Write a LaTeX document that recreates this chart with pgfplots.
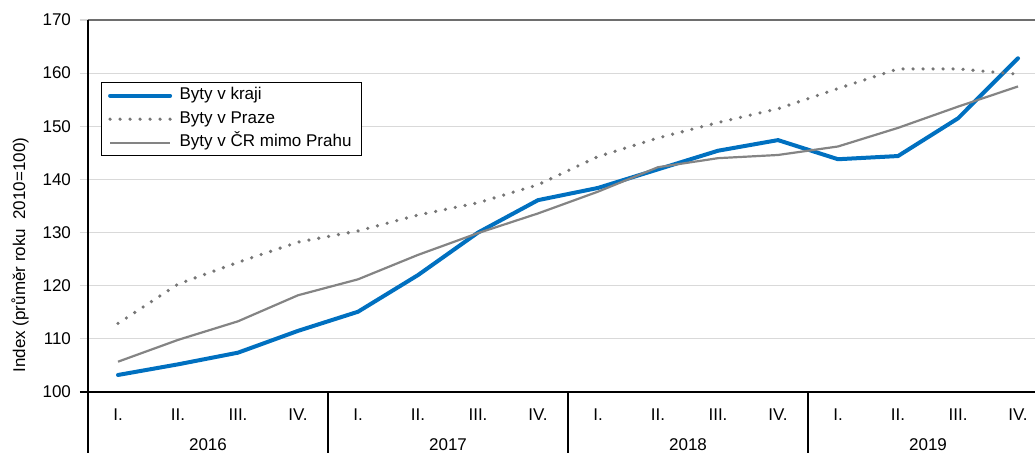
\documentclass[border=0pt]{standalone}
\usepackage{fontspec}
\setmainfont{Liberation Sans}
\usepackage{pgfplots}
\pgfplotsset{compat=1.18}

\definecolor{krajblue}{RGB}{0,112,192}
\definecolor{prahagray}{RGB}{118,118,118}
\definecolor{crgray}{RGB}{132,132,132}
\definecolor{gridgray}{RGB}{217,217,217}
\definecolor{framegray}{RGB}{110,110,110}

\begin{document}
\begin{tikzpicture}[font=\fontsize{8.5pt}{10pt}\selectfont]
\path[use as bounding box] (0,0) rectangle (517.5pt,226.5pt);
\begin{axis}[
  at={(44pt,30.5pt)}, anchor=south west,
  scale only axis, width=473.5pt, height=186pt,
  xmin=-0.5, xmax=15.283, ymin=100, ymax=170,
  clip=false,
  axis line style={draw=none},
  /pgf/number format/assume math mode=true,
  ytick={100,110,...,170}, ytick pos=left,
  tick align=outside, major tick length=4pt,
  y tick style={gridgray, line width=0.6pt},
  yticklabel style={xshift=-1pt},
  ymajorgrids, major grid style={gridgray, line width=0.6pt},
  xtick={0,...,15},
  xticklabels={I.,II.,III.,IV.,I.,II.,III.,IV.,I.,II.,III.,IV.,I.,II.,III.,IV.},
  x tick style={draw=none},
  xticklabel style={anchor=center, yshift=-7.5pt},
  ylabel={Index (průměr roku\ \ 2010=100)},
  every axis y label/.style={at={(axis description cs:-0.0718,0.368)}, rotate=90, anchor=center},
  legend cell align=left,
  legend image code/.code={\draw[#1] (0pt,0pt) -- (30pt,0pt);},
  legend style={at={(axis description cs:0.0137,0.833)}, anchor=north west,
    draw=black, line width=0.6pt, fill=white,
    inner xsep=3.25pt, inner ysep=0.6pt, row sep=0pt, column sep=2pt,
    nodes={inner sep=1.75pt, text height=6.25pt, text depth=2pt}},
]
% frame lines and year separators below the axis
\draw[framegray, line width=0.6pt] (rel axis cs:0,1) -- (rel axis cs:1,1);
\draw[black, line width=0.7pt] (rel axis cs:0,1) -- (rel axis cs:0,0) -- ++(0pt,-30.5pt);
\draw[black, line width=0.7pt] (rel axis cs:-0.0085,0) -- (rel axis cs:1,0);
\draw[black, line width=0.7pt] (axis cs:3.5,100) -- ++(0pt,-30.5pt);
\draw[black, line width=0.7pt] (axis cs:7.5,100) -- ++(0pt,-30.5pt);
\draw[black, line width=0.7pt] (axis cs:11.5,100) -- ++(0pt,-30.5pt);
\node at (axis cs:1.5,100) [yshift=-26.5pt] {2016};
\node at (axis cs:5.5,100) [yshift=-26.5pt] {2017};
\node at (axis cs:9.5,100) [yshift=-26.5pt] {2018};
\node at (axis cs:13.5,100) [yshift=-26.5pt] {2019};

% Byty v kraji
\addplot[krajblue, line width=2pt, line join=round, line cap=round] coordinates {
  (0,103.2) (1,105.2) (2,107.4) (3,111.5)
  (4,115.1) (5,122.0) (6,130.0) (7,136.1)
  (8,138.4) (9,141.9) (10,145.4) (11,147.4)
  (12,143.8) (13,144.4) (14,151.5) (15,162.8)};
\addlegendentry{Byty v kraji}

% Byty v Praze
\addplot[prahagray, line width=1.8pt, line cap=round, dash pattern=on 0pt off 5pt] coordinates {
  (0,112.9) (1,120.3) (2,124.4) (3,128.2)
  (4,130.3) (5,133.3) (6,135.6) (7,139.0)
  (8,144.3) (9,147.8) (10,150.7) (11,153.3)
  (12,157.1) (13,160.8) (14,160.8) (15,159.8)};
\addlegendentry{Byty v Praze}

% Byty v CR mimo Prahu
\addplot[crgray, line width=1.1pt, line join=round] coordinates {
  (0,105.7) (1,109.8) (2,113.3) (3,118.2)
  (4,121.2) (5,125.8) (6,129.9) (7,133.6)
  (8,137.7) (9,142.3) (10,144.0) (11,144.6)
  (12,146.2) (13,149.7) (14,153.7) (15,157.5)};
\addlegendentry{Byty v ČR mimo Prahu}
\end{axis}
\end{tikzpicture}
\end{document}
